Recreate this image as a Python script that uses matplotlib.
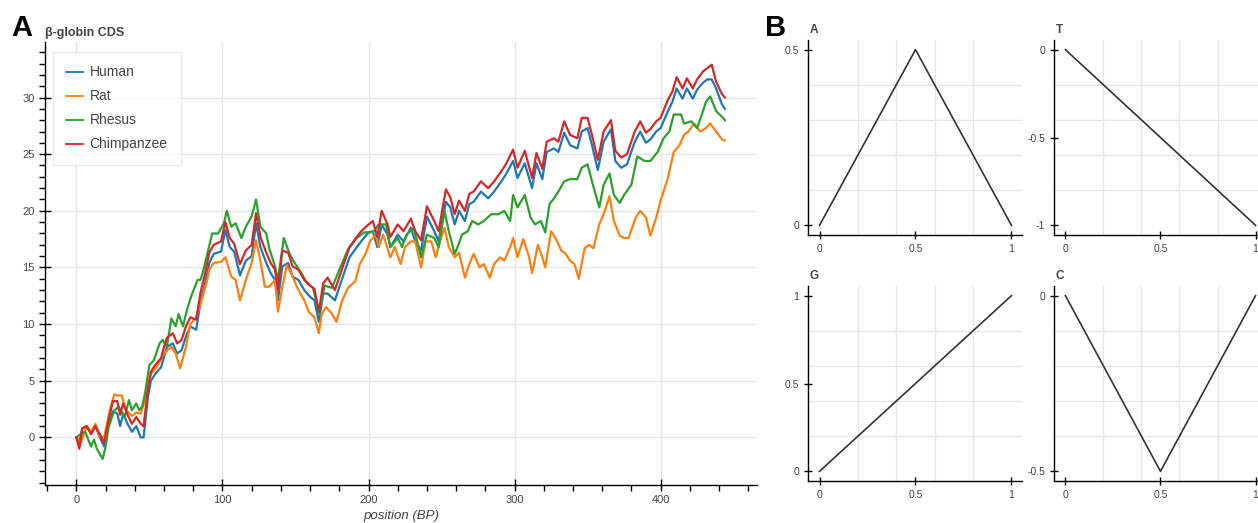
import matplotlib
matplotlib.use('Agg')
import matplotlib.pyplot as plt
import numpy as np
from matplotlib.ticker import MultipleLocator

plt.rcParams['font.family'] = ['Liberation Sans', 'DejaVu Sans']
plt.rcParams['axes.unicode_minus'] = False

# --- panel A: DNA walk of the beta-globin CDS ---
# human and chimpanzee were read at the same positions
HC_POS = [0, 2, 4, 7, 10, 13, 16, 19, 22, 25,
          28, 30, 32, 35, 38, 41, 44, 46, 49, 51,
          54, 58, 60, 62, 66, 69, 72, 75, 78, 82,
          85, 88, 91, 94, 99, 102, 105, 108, 112, 116,
          120, 123, 126, 130, 133, 136, 138, 141, 145, 148,
          152, 156, 160, 163, 166, 169, 172, 177, 183, 187,
          192, 195, 200, 203, 206, 209, 213, 215, 220, 224,
          229, 232, 236, 240, 245, 248, 253, 256, 259, 262,
          266, 269, 272, 277, 282, 286, 291, 294, 299, 302,
          307, 312, 315, 319, 322, 327, 330, 334, 338, 343,
          346, 350, 353, 357, 361, 366, 369, 373, 377, 382,
          386, 390, 393, 397, 400, 405, 408, 411, 415, 418,
          422, 425, 429, 432, 435, 438, 442, 444]

HUMAN = [0, -0.5, 0.8, 1, 0.3, 1, 0, -0.8, 1, 2.3,
         2.1, 1, 2.1, 1.2, 0.5, 1, 0, 0, 3.6, 5,
         5.6, 6.2, 7.1, 8, 8.3, 7.4, 7.7, 8.9, 9.8, 9.5,
         12, 13.5, 15.4, 16.2, 16.4, 18.3, 16.8, 16.4, 14.3, 15.6,
         16, 18.9, 16.8, 15.4, 14.5, 13.9, 12.1, 15.1, 15.4, 14.2,
         13.9, 13, 12.4, 12.1, 10.2, 12.7, 12.7, 12.1, 14.4, 15.9,
         16.8, 17.3, 18.1, 18.2, 16.8, 18.8, 17.9, 16.8, 17.9, 17.3,
         18.5, 17.3, 16.5, 19.5, 18.2, 17.3, 20.8, 20.3, 18.8, 20,
         19.1, 20.6, 20.8, 21.7, 21.1, 21.7, 22.6, 23.2, 24.4, 22.9,
         24.2, 22, 24.2, 22.8, 25.2, 25.5, 25.2, 26.9, 25.8, 25.5,
         27, 27.3, 25.8, 23.6, 26.1, 27.2, 24.4, 23.8, 24.1, 26,
         27, 26, 26.3, 27, 27.3, 28.8, 29.6, 30.8, 29.9, 30.8,
         29.9, 30.7, 31.3, 31.6, 31.6, 30.8, 29.4, 29]

CHIMP = [0, -1, 0.8, 1, 0.3, 1, 0.3, -0.5, 1.5, 3.2,
         3.2, 2, 3, 2, 1.2, 1.8, 1.2, 1, 4.3, 5.8,
         6.4, 7, 8, 8.8, 9.2, 8.3, 8.6, 9.8, 10.6, 10.4,
         12.8, 14.4, 16.3, 17, 17.3, 19, 17.6, 17.1, 15.3, 16.5,
         17, 19.8, 17.7, 16.3, 15.4, 14.8, 13, 16.5, 16.3, 15.1,
         14.8, 13.9, 13.4, 13.1, 11.1, 13.6, 14.1, 13, 15.3, 16.8,
         17.7, 18.2, 18.8, 19.1, 17.7, 20, 18.8, 17.7, 18.8, 18.2,
         19.3, 18.2, 17.4, 20.4, 19.1, 18.2, 21.9, 21.2, 19.7, 20.9,
         20, 21.5, 21.7, 22.6, 22, 22.6, 23.5, 24.1, 25.4, 23.8,
         25.3, 22.9, 25.1, 23.7, 26.1, 26.4, 26.1, 27.9, 26.7, 26.4,
         28.2, 28.2, 26.7, 24.5, 27, 28, 25.3, 24.7, 25, 26.9,
         27.9, 26.9, 27.2, 27.9, 28.2, 29.8, 30.5, 31.8, 30.8, 31.7,
         30.8, 31.6, 32.3, 32.6, 32.9, 31.4, 30.3, 30]

RHESUS_POS = [0, 3, 6, 10, 12, 14, 18, 20, 22, 26,
              29, 33, 36, 38, 41, 43, 45, 47, 50, 53,
              57, 59, 62, 65, 68, 70, 73, 75, 77, 79,
              83, 85, 87, 90, 93, 97, 101, 103, 106, 109,
              113, 116, 120, 123, 126, 130, 132, 136, 138, 142,
              146, 149, 154, 158, 162, 166, 170, 175, 180, 186,
              192, 197, 203, 207, 212, 215, 220, 223, 226, 231,
              236, 240, 245, 248, 252, 255, 259, 261, 264, 268,
              271, 275, 279, 284, 289, 293, 297, 299, 302, 307,
              311, 314, 318, 321, 324, 327, 330, 334, 338, 343,
              346, 350, 353, 358, 361, 365, 368, 372, 375, 380,
              384, 389, 393, 398, 402, 406, 409, 414, 416, 421,
              425, 429, 431, 434, 438, 442, 444]

RHESUS = [0, 0.3, 0.5, -0.8, -0.2, -1, -1.9, -0.8, 0.9, 2.4,
          2.7, 1.8, 3.3, 2.4, 3, 2.4, 2.7, 3.9, 6.4, 6.8,
          8.3, 8.6, 8, 10.5, 9.8, 10.9, 9.8, 10.9, 11.8, 12.6,
          13.9, 13.9, 14.8, 16.4, 18, 18, 18.9, 20, 18.6, 18.9,
          17.6, 18.6, 19.5, 21, 18.6, 18, 16.7, 15.1, 13.9, 17.6,
          16.2, 15.5, 14.5, 13.6, 13.2, 11, 13.4, 13.2, 14.8, 16.6,
          17.6, 18.1, 18.1, 18.8, 18.8, 16.8, 17.6, 16.8, 17.9, 18.5,
          15.9, 17.9, 17.6, 16.8, 20, 18.2, 16.2, 16.8, 17.9, 18.2,
          19.1, 18.8, 19.1, 19.7, 19.7, 20, 19.1, 21.4, 20.3, 21.4,
          19.4, 18.8, 19.1, 18.1, 20.6, 21.1, 21.7, 22.6, 22.8, 22.8,
          23.8, 24.1, 22.6, 20.3, 22.3, 23.3, 21.4, 20.7, 21.4, 22.3,
          24.8, 24.4, 24.4, 25.2, 26.4, 27, 28.5, 28.5, 27.7, 27.9,
          27.3, 28.8, 29.6, 30.1, 28.8, 28.3, 28]

RAT_POS = [0, 3, 7, 10, 13, 16, 19, 23, 26, 28,
           31, 34, 38, 41, 44, 47, 51, 55, 60, 65,
           68, 71, 75, 78, 82, 85, 89, 91, 94, 99,
           102, 106, 109, 112, 116, 120, 123, 126, 129, 132,
           136, 138, 141, 144, 147, 152, 156, 159, 163, 166,
           168, 171, 175, 178, 182, 186, 191, 194, 198, 201,
           205, 207, 210, 215, 218, 222, 225, 229, 232, 236,
           239, 243, 246, 249, 252, 255, 259, 262, 266, 269,
           272, 276, 279, 283, 286, 290, 293, 297, 299, 302,
           306, 310, 312, 316, 319, 321, 325, 328, 332, 335,
           338, 341, 344, 348, 351, 354, 358, 361, 365, 368,
           372, 375, 378, 383, 386, 390, 393, 397, 400, 405,
           409, 413, 416, 419, 423, 427, 431, 434, 438, 442,
           444]

RAT = [0, -0.5, 1, 0.5, 1.2, 0, 0, 2.5, 3.8, 3.7,
       3.7, 2.4, 1.9, 2.2, 2.1, 3.3, 5.6, 6.2, 7.4, 8,
       7.4, 6.1, 8, 10, 10.6, 11.8, 13.6, 14.8, 15.4, 15.5,
       15.9, 14.2, 13.9, 12.1, 13.9, 15.4, 17.4, 15.6, 13.3, 13.3,
       13.9, 11.1, 13.3, 15.2, 14.5, 13, 12.1, 11.1, 10.6, 9.2,
       10.9, 11.5, 10.9, 10.2, 12.1, 13.2, 13.8, 15.3, 16.2, 17.3,
       17.9, 16.8, 17.9, 15.9, 16.8, 15.3, 16.8, 17.3, 17.3, 15,
       17.3, 17.3, 15.9, 17.3, 18.5, 16.8, 15.9, 16.3, 14.1, 15.3,
       16.2, 15, 15.3, 14.1, 15.3, 15.9, 15.6, 16.8, 17.6, 15.9,
       17.5, 15.9, 14.5, 17, 15.9, 15, 18.2, 17.6, 16.5, 16.2,
       15.6, 15.3, 14, 16.7, 17, 16.7, 18.8, 19.7, 21.3, 19.1,
       17.8, 17.6, 17.6, 19.4, 20, 19.4, 17.8, 19.4, 20.9, 22.9,
       25.2, 25.8, 26.7, 27, 27.7, 27, 27.3, 27.7, 27, 26.3,
       26.2]

# --- panel B: the glyph drawn for each nucleotide ---
GLYPHS = ['A', 'T', 'G', 'C']
GLYPH_X = [[0, 0.5, 1], [0, 1], [0, 1], [0, 0.5, 1]]
GLYPH_Y = [[0, 0.5, 0], [0, -1], [0, 1], [0, -0.5, 0]]
GLYPH_YTICKS = [[0, 0.5], [0, -0.5, -1], [0, 0.5, 1], [0, -0.5]]

BLUE, ORANGE, GREEN, RED = '#1f77b4', '#ff7f0e', '#2ca02c', '#d62728'
TEXT = '#444444'
GRID = '#e6e6e6'
W, H = 1258, 523


def fig_box(x0, y0, x1, y1):
    # pixel box (top-left origin) -> figure fraction rect
    return [x0 / W, 1 - y1 / H, (x1 - x0) / W, (y1 - y0) / H]


def style_axes(ax, labelsize=8):
    for s in ('top', 'right'):
        ax.spines[s].set_visible(False)
    for s in ('left', 'bottom'):
        ax.spines[s].set_color('black')
        ax.spines[s].set_linewidth(1)
    ax.tick_params(which='major', direction='inout', length=8, width=1,
                   colors='black', labelcolor=TEXT, labelsize=labelsize)
    ax.set_axisbelow(True)


fig = plt.figure(figsize=(W / 100, H / 100), dpi=100)

# ---- A ----
ax = fig.add_axes(fig_box(45, 42, 757, 485))
ax.plot(HC_POS, HUMAN, color=BLUE, lw=1.6, label='Human')
ax.plot(RAT_POS, RAT, color=ORANGE, lw=1.6, label='Rat')
ax.plot(RHESUS_POS, RHESUS, color=GREEN, lw=1.6, label='Rhesus')
ax.plot(HC_POS, CHIMP, color=RED, lw=1.6, label='Chimpanzee')
ax.set_xlim(-21.5, 466)
ax.set_ylim(-4.2, 34.9)
style_axes(ax)
ax.xaxis.set_major_locator(MultipleLocator(100))
ax.xaxis.set_minor_locator(MultipleLocator(20))
ax.yaxis.set_major_locator(MultipleLocator(5))
ax.yaxis.set_minor_locator(MultipleLocator(1))
ax.tick_params(which='minor', direction='out', length=4, width=1, colors='black')
ax.grid(True, which='major', color=GRID, lw=1)
ax.set_xlabel('position (BP)', fontsize=9.5, style='italic', color=TEXT, labelpad=3)

leg = ax.legend(loc='upper left', bbox_to_anchor=(0.011, 0.977), fontsize=10,
                frameon=True, fancybox=False, borderpad=0.95, labelspacing=0.72,
                handlelength=1.2, handletextpad=0.5, borderaxespad=0)
leg.get_frame().set_edgecolor(GRID)
leg.get_frame().set_linewidth(1)
for t in leg.get_texts():
    t.set_color(TEXT)
for l in leg.get_lines():
    l.set_linewidth(1.3)

fig.text(45 / W, 1 - 36 / H, 'β-globin CDS', fontsize=9, fontweight='bold', color=TEXT)
fig.text(11 / W, 1 - 36 / H, 'A', fontsize=21, fontweight='bold', color='black')
fig.text(765 / W, 1 - 36 / H, 'B', fontsize=21, fontweight='bold', color='black')

# ---- B ----
boxes = [(808, 40, 1022, 235), (1054, 40, 1266, 235),
         (808, 286, 1022, 481), (1054, 286, 1266, 481)]
for name, gx, gy, yt, box in zip(GLYPHS, GLYPH_X, GLYPH_Y, GLYPH_YTICKS, boxes):
    b = fig.add_axes(fig_box(*box))
    b.plot(gx, gy, color='#333333', lw=1.2)
    lo, hi = min(gy), max(gy)
    pad = 0.055 * (hi - lo)
    b.set_ylim(lo - pad, hi + pad)
    b.set_xlim(-0.06, 1.055)
    style_axes(b, labelsize=7.5)
    b.set_xticks([0, 0.5, 1])
    b.set_xticklabels(['0', '0.5', '1'])
    b.set_yticks(yt)
    b.set_yticklabels([('%g' % v) for v in yt])
    b.set_xticks(np.linspace(0, 1, 6), minor=True)
    b.set_yticks(np.linspace(lo, hi, 6), minor=True)
    b.tick_params(which='minor', length=0)
    b.tick_params(which='major', length=6)
    b.grid(False, which='major')
    b.grid(True, which='minor', color=GRID, lw=1)
    fig.text((box[0] + 2) / W, 1 - (box[1] - 7) / H, name, fontsize=8.5,
             fontweight='bold', color=TEXT)

fig.savefig('out.png', dpi=100)
